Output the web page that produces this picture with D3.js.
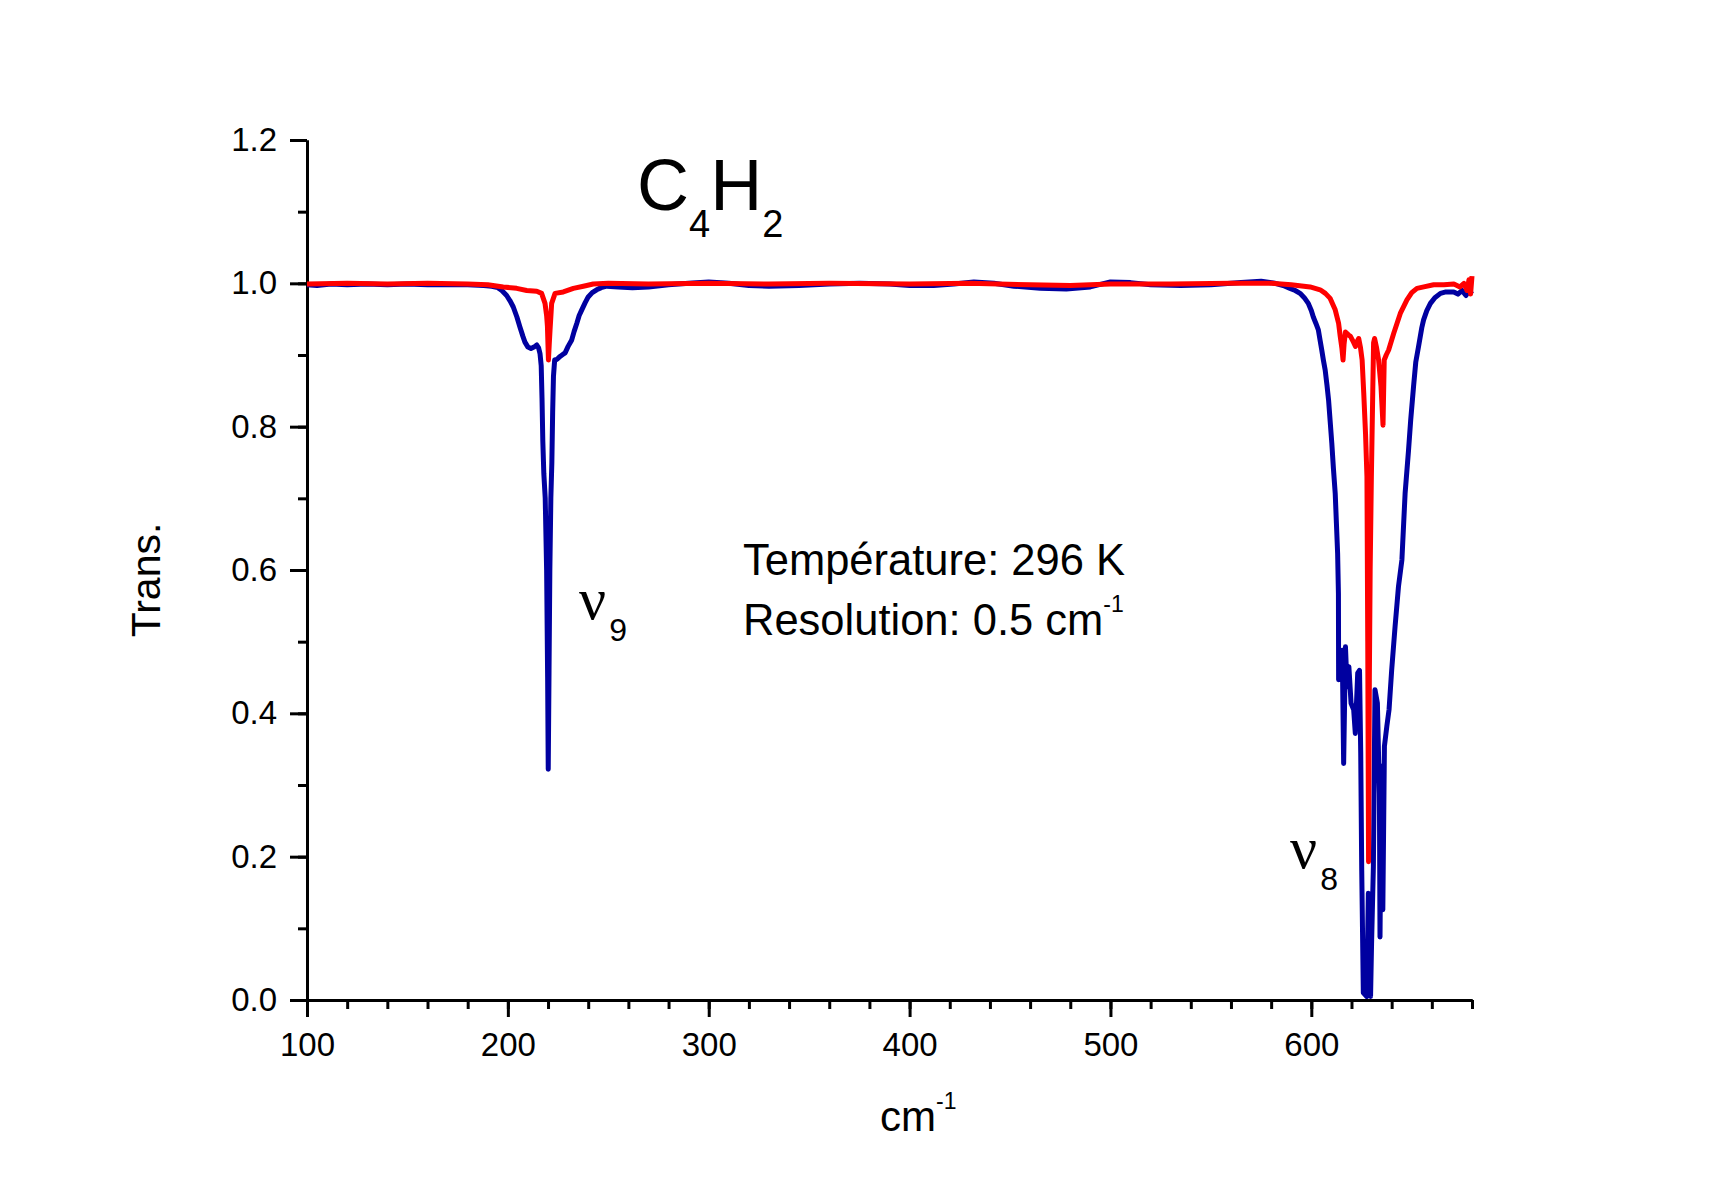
<!DOCTYPE html>
<html>
<head>
<meta charset="utf-8">
<script src="https://cdn.jsdelivr.net/npm/d3@7"></script>
<style>
  html, body { margin: 0; padding: 0; background: #fff; }
  svg { display: block; }
  text { font-family: "Liberation Sans", Arial, sans-serif; fill: #000; }
</style>
</head>
<body>
<svg id="chart" width="1710" height="1200"></svg>
<script>
// ---- Data ----
const xMajorTicks = [100, 200, 300, 400, 500, 600];
const yMajorTicks = [0.0, 0.2, 0.4, 0.6, 0.8, 1.0, 1.2];

// Blue spectrum: wavenumber (cm-1) and transmission
const blueWave = [100,105,112,120,130,140,150,160,170,180,188,192,195,197,199.4,201,202.7,204.5,206,207.5,208.5,210,211.5,213,214.4,215.3,216,216.6,217.0,217.4,217.9,218.6,219.3,219.8,220.1,220.5,220.9,221.4,221.9,222.3,222.7,223.3,224.5,226,227.5,228.5,230,231.8,233,234.3,235.5,236.8,238.5,240,242,244.2,246.5,249.2,255,262,270,280,290,300,310,320,330,345,360,375,390,400,412,422,432,442,452,465,478,490,500,510,520,535,550,565,575,582,586,589.4,592,594.4,596.5,598.5,600,601,602.3,603.5,604.4,605.2,606,606.9,607.8,608.6,609.4,610.2,611,611.9,612.5,613.1,613.5,613.6,615.4,616.1,617,617.8,618.7,619.8,621.1,621.9,623.1,624,624.6,625.1,625.9,627.6,628.4,629.5,630,630.9,631.7,632.9,633.9,634.2,634.9,635.6,636.4,637.6,638.7,640,641.7,643.4,645.1,646.7,648.4,649.5,650.9,652,653.4,655,655.9,657.5,659.3,661.5,664.3,667,670.9,673,675,677,678.5,680];
const blueTrans = [0.998,0.997,0.999,0.998,0.999,0.998,0.999,0.998,0.998,0.998,0.997,0.996,0.994,0.990,0.983,0.976,0.967,0.953,0.939,0.926,0.918,0.911,0.909,0.911,0.914,0.910,0.902,0.885,0.840,0.780,0.735,0.700,0.600,0.450,0.322,0.460,0.600,0.700,0.750,0.820,0.870,0.893,0.894,0.898,0.901,0.903,0.912,0.921,0.933,0.944,0.955,0.963,0.973,0.981,0.987,0.991,0.994,0.996,0.995,0.994,0.995,0.998,1.000,1.002,1.000,0.997,0.996,0.997,0.999,1.000,0.999,0.997,0.997,0.999,1.002,1.000,0.996,0.993,0.992,0.995,1.002,1.001,0.998,0.997,0.998,1.001,1.003,1.000,0.997,0.993,0.990,0.986,0.980,0.972,0.962,0.953,0.944,0.935,0.920,0.907,0.893,0.879,0.858,0.837,0.807,0.777,0.742,0.707,0.665,0.623,0.567,0.447,0.488,0.330,0.493,0.437,0.465,0.414,0.405,0.372,0.456,0.460,0.344,0.181,0.010,0.005,0.149,0.005,0.079,0.186,0.433,0.414,0.288,0.088,0.326,0.126,0.354,0.382,0.405,0.460,0.521,0.577,0.614,0.707,0.767,0.810,0.856,0.890,0.912,0.938,0.949,0.962,0.972,0.980,0.986,0.988,0.988,0.985,0.990,0.983,0.990,0.985];

// Red spectrum: wavenumber (cm-1) and transmission
const redWave = [100,120,140,160,180,190,197.7,204.4,209.4,214.4,216.8,218.5,219.3,219.7,220.2,220.6,221,221.8,223.5,227.6,232.6,237.6,242.5,250,270,300,330,360,400,430,460,480,500,530,560,580,590,599.4,604.4,607,609.4,611.9,613.6,614.4,615.2,615.8,616.3,617,618.5,619.5,621,622,623,623.6,624.5,625.3,626.1,627,627.7,628.1,628.5,628.9,629.3,629.9,630.6,631,631.5,632.5,633.5,634.7,635.7,636.3,637.3,638.5,641,644.3,647.6,650,652.6,656,660.9,666,671,674,676,677.5,678.5,679.3,680];
const redTrans = [0.999,1.000,0.999,1.000,0.999,0.998,0.995,0.993,0.990,0.989,0.986,0.972,0.955,0.940,0.893,0.915,0.935,0.972,0.986,0.988,0.993,0.996,0.999,1.000,0.999,1.000,0.999,1.000,0.999,1.000,0.998,0.997,0.999,0.999,1.000,1.000,0.998,0.995,0.991,0.986,0.979,0.963,0.944,0.926,0.910,0.893,0.915,0.932,0.928,0.926,0.918,0.912,0.920,0.923,0.910,0.893,0.847,0.790,0.730,0.500,0.193,0.450,0.600,0.730,0.850,0.917,0.923,0.910,0.893,0.856,0.802,0.893,0.900,0.907,0.930,0.958,0.977,0.987,0.993,0.995,0.998,0.998,0.999,0.995,1.000,0.990,1.005,0.985,1.010];

// ---- Drawing ----
const svg = d3.select("#chart");
svg.append("rect").attr("width", 1710).attr("height", 1200).attr("fill", "#fff");

const x = d3.scaleLinear().domain([100, 680]).range([307, 1472]);
const y = d3.scaleLinear().domain([0, 1.2]).range([1000, 140]);

function styleAxis(g) {
  g.select(".domain").attr("stroke", "#000").attr("stroke-width", 3);
  g.selectAll(".tick line").attr("stroke", "#000").attr("stroke-width", 3);
  g.selectAll(".tick text").attr("fill", "#000")
    .style("font-family", '"Liberation Sans", Arial, sans-serif')
    .style("font-size", "33px");
}

// x minor
svg.append("g").attr("transform", "translate(0,1000)")
  .call(d3.axisBottom(x).tickValues(d3.range(100, 681, 20)).tickSize(9).tickSizeOuter(0).tickFormat(""))
  .call(styleAxis);
// x major
svg.append("g").attr("transform", "translate(0,1000)")
  .call(d3.axisBottom(x).tickValues(xMajorTicks).tickSize(17).tickSizeOuter(0).tickPadding(16).tickFormat(d3.format("d")))
  .call(styleAxis)
  .call(g => g.attr("font-family", null).attr("font-size", null));
// y minor
svg.append("g").attr("transform", "translate(307,0)")
  .call(d3.axisLeft(y).tickValues(d3.range(0, 12.5, 1).map(v => v / 10)).tickSize(9).tickSizeOuter(0).tickFormat(""))
  .call(styleAxis);
// y major
svg.append("g").attr("transform", "translate(307,0)")
  .call(d3.axisLeft(y).tickValues(yMajorTicks).tickSize(17).tickSizeOuter(0).tickPadding(13).tickFormat(d3.format(".1f")))
  .call(styleAxis)
  .call(g => g.attr("font-family", null).attr("font-size", null));

const line = d3.line().x(d => x(d[0])).y(d => y(d[1]));

svg.append("path")
  .datum(blueWave.map((w, i) => [w, blueTrans[i]]))
  .attr("d", line).attr("fill", "none")
  .attr("stroke", "#0000a0").attr("stroke-width", 5).attr("stroke-linejoin", "round");

svg.append("path")
  .datum(redWave.map((w, i) => [w, redTrans[i]]))
  .attr("d", line).attr("fill", "none")
  .attr("stroke", "#ff0000").attr("stroke-width", 5).attr("stroke-linejoin", "round");

// ---- Texts ----
// Title C4H2
const title = svg.append("text").attr("x", 637).attr("y", 210).style("font-size", "72px");
title.append("tspan").text("C");
title.append("tspan").attr("dy", 27).style("font-size", "38px").text("4");
title.append("tspan").attr("dy", -27).text("H");
title.append("tspan").attr("dy", 27).style("font-size", "38px").text("2");

// Axis titles
svg.append("text").attr("transform", "translate(160,580) rotate(-90)")
  .attr("text-anchor", "middle").style("font-size", "41px").text("Trans.");

const xt = svg.append("text").attr("x", 880).attr("y", 1131).style("font-size", "42px");
xt.append("tspan").text("cm");
xt.append("tspan").attr("dy", -22).style("font-size", "23px").text("-1");

// Annotations
svg.append("text").attr("x", 743).attr("y", 575).style("font-size", "43.5px").text("Température: 296 K");
const res = svg.append("text").attr("x", 743).attr("y", 635).style("font-size", "43.5px");
res.append("tspan").text("Resolution: 0.5 cm");
res.append("tspan").attr("dy", -23).style("font-size", "23px").text("-1");

function nuLabel(px, py, sub) {
  const t = svg.append("text").attr("x", px).attr("y", py);
  t.append("tspan").style("font-family", '"Liberation Serif", "DejaVu Serif", serif').style("font-size", "60px").text("ν");
  t.append("tspan").attr("dx", 3).attr("dy", 22).style("font-size", "32px").text(sub);
}
nuLabel(579, 619, "9");
nuLabel(1290, 868, "8");
</script>
</body>
</html>
